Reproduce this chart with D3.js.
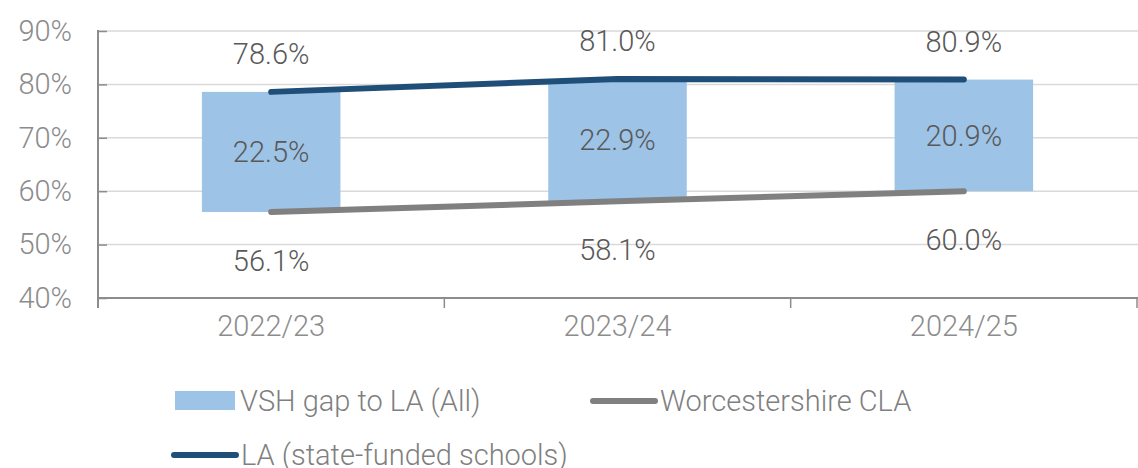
<!DOCTYPE html>
<html>
<head>
<meta charset="utf-8">
<script src="https://cdn.jsdelivr.net/npm/d3@7"></script>
<style>
  body { margin: 0; background: #fff; }
  text { font-family: Roboto, "Noto Sans", sans-serif; font-weight: 300; }
</style>
</head>
<body>
<svg id="my_svg"></svg>
<script>
const width = 1138;
const height = 468;

const years = ['2022/23', '2023/24', '2024/25'];
const laValues = [78.6, 81.0, 80.9];
const claValues = [56.1, 58.1, 60.0];
const gapValues = [22.5, 22.9, 20.9];
const yTicks = [40, 50, 60, 70, 80, 90];

const svg = d3.select('#my_svg')
    .attr('width', width)
    .attr('height', height);

const margin = {left: 98, right: 1, top: 31, bottom: 170};

const x = d3.scaleBand()
    .domain(years)
    .range([margin.left, width - margin.right])
    .paddingInner(0.6)
    .paddingOuter(0.3);

// band centres for the lines, axis ticks on band edges
const xEdge = d3.scaleBand()
    .domain(years)
    .range([margin.left, width - margin.right]);

const y = d3.scaleLinear()
    .domain([40, 90])
    .range([height - margin.bottom, margin.top]);

const cx = d => xEdge(d) + xEdge.bandwidth() / 2;

// gridlines
svg.append('g')
    .selectAll('line')
    .data(yTicks.slice(1))
    .enter().append('line')
    .attr('x1', margin.left)
    .attr('x2', width)
    .attr('y1', d => y(d))
    .attr('y2', d => y(d))
    .attr('stroke', '#d9d9d9')
    .attr('stroke-width', 1.5);

// y axis
const yAxis = svg.append('g')
    .attr('transform', `translate(${margin.left},0)`)
    .call(d3.axisLeft(y).tickValues(yTicks).tickSize(-9).tickPadding(26).tickFormat(d => d + '%'));
yAxis.select('.domain').remove();
yAxis.selectAll('.tick line').attr('stroke', '#8c8c8c').attr('stroke-width', 1.5);
yAxis.selectAll('.tick text')
    .attr('fill', '#8c8c8c')
    .style('font-size', '29px');

svg.append('line')
    .attr('x1', margin.left).attr('x2', margin.left)
    .attr('y1', margin.top - 1).attr('y2', y(40) + 10)
    .attr('stroke', '#8c8c8c').attr('stroke-width', 2);

// x axis
svg.append('line')
    .attr('x1', margin.left).attr('x2', width)
    .attr('y1', y(40)).attr('y2', y(40))
    .attr('stroke', '#8c8c8c').attr('stroke-width', 2);

svg.append('g')
    .selectAll('line')
    .data(years)
    .enter().append('line')
    .attr('x1', d => xEdge(d) + xEdge.bandwidth())
    .attr('x2', d => xEdge(d) + xEdge.bandwidth())
    .attr('y1', y(40))
    .attr('y2', y(40) + 10)
    .attr('stroke', '#8c8c8c').attr('stroke-width', 1.5);

svg.append('g')
    .selectAll('text')
    .data(years)
    .enter().append('text')
    .attr('x', d => cx(d))
    .attr('y', y(40) + 28)
    .attr('dy', '0.35em')
    .attr('text-anchor', 'middle')
    .attr('fill', '#8c8c8c')
    .style('font-size', '29px')
    .text(d => d);

// floating bars (gap between CLA and LA)
svg.append('g')
    .selectAll('rect')
    .data(years)
    .enter().append('rect')
    .attr('x', d => x(d))
    .attr('width', x.bandwidth())
    .attr('y', (d, i) => y(claValues[i] + gapValues[i]))
    .attr('height', (d, i) => y(claValues[i]) - y(claValues[i] + gapValues[i]))
    .attr('fill', '#9dc3e6');

svg.append('g')
    .selectAll('text')
    .data(years)
    .enter().append('text')
    .attr('x', d => cx(d))
    .attr('y', (d, i) => y(claValues[i] + gapValues[i] / 2))
    .attr('dy', '0.35em')
    .attr('text-anchor', 'middle')
    .attr('fill', '#595959')
    .style('font-size', '29px')
    .text((d, i) => gapValues[i].toFixed(1) + '%');

// lines
const line = d3.line()
    .x((d, i) => cx(years[i]))
    .y(d => y(d));

svg.append('path')
    .datum(claValues)
    .attr('d', line)
    .attr('fill', 'none')
    .attr('stroke', '#808080')
    .attr('stroke-width', 6)
    .attr('stroke-linecap', 'round');

svg.append('path')
    .datum(laValues)
    .attr('d', line)
    .attr('fill', 'none')
    .attr('stroke', '#1f4e79')
    .attr('stroke-width', 6)
    .attr('stroke-linecap', 'round');

svg.append('g')
    .selectAll('text')
    .data(laValues)
    .enter().append('text')
    .attr('x', (d, i) => cx(years[i]))
    .attr('y', d => y(d) - 38)
    .attr('dy', '0.35em')
    .attr('text-anchor', 'middle')
    .attr('fill', '#595959')
    .style('font-size', '29px')
    .text(d => d.toFixed(1) + '%');

svg.append('g')
    .selectAll('text')
    .data(claValues)
    .enter().append('text')
    .attr('x', (d, i) => cx(years[i]))
    .attr('y', d => y(d) + 49)
    .attr('dy', '0.35em')
    .attr('text-anchor', 'middle')
    .attr('fill', '#595959')
    .style('font-size', '29px')
    .text(d => d.toFixed(1) + '%');

// legend
const legend = svg.append('g');
legend.append('rect')
    .attr('x', 175).attr('y', 391)
    .attr('width', 60).attr('height', 19)
    .attr('fill', '#9dc3e6');
legend.append('text')
    .attr('x', 240).attr('y', 401).attr('dy', '0.35em')
    .attr('fill', '#7f7f7f').style('font-size', '29px')
    .text('VSH gap to LA (All)');

legend.append('line')
    .attr('x1', 593).attr('x2', 655)
    .attr('y1', 401).attr('y2', 401)
    .attr('stroke', '#808080').attr('stroke-width', 6).attr('stroke-linecap', 'round');
legend.append('text')
    .attr('x', 660).attr('y', 401).attr('dy', '0.35em')
    .attr('fill', '#7f7f7f').style('font-size', '29px')
    .text('Worcestershire CLA');

legend.append('line')
    .attr('x1', 174).attr('x2', 236)
    .attr('y1', 455).attr('y2', 455)
    .attr('stroke', '#1f4e79').attr('stroke-width', 6).attr('stroke-linecap', 'round');
legend.append('text')
    .attr('x', 241).attr('y', 455).attr('dy', '0.35em')
    .attr('fill', '#7f7f7f').style('font-size', '29px')
    .text('LA (state-funded schools)');
</script>
</body>
</html>
